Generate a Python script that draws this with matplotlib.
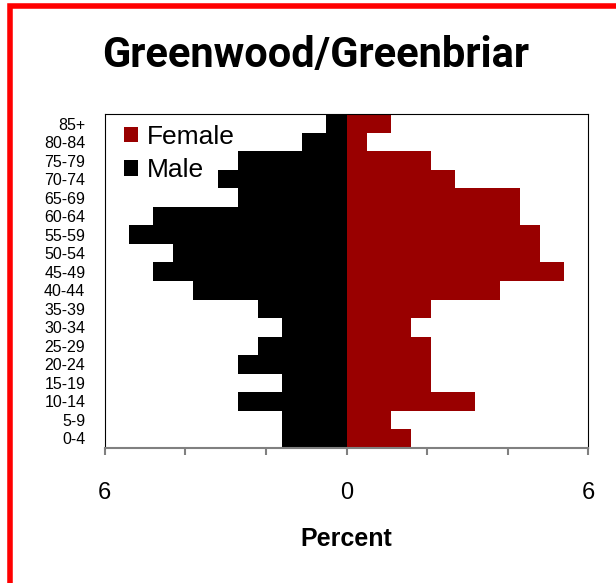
import numpy as np
import matplotlib
matplotlib.use("Agg")
import matplotlib.pyplot as plt
from matplotlib.patches import Rectangle

# age groups, bottom to top
ages = ["0-4", "5-9", "10-14", "15-19", "20-24", "25-29", "30-34", "35-39",
        "40-44", "45-49", "50-54", "55-59", "60-64", "65-69", "70-74",
        "75-79", "80-84", "85+"]
male = [1.6, 1.6, 2.7, 1.6, 2.7, 2.2, 1.6, 2.2, 3.8, 4.8, 4.3, 5.4, 4.8,
        2.7, 3.2, 2.7, 1.1, 0.5]
female = [1.6, 1.1, 3.2, 2.1, 2.1, 2.1, 1.6, 2.1, 3.8, 5.4, 4.8, 4.8, 4.3,
          4.3, 2.7, 2.1, 0.5, 1.1]
xticks = [-6, -4, -2, 0, 2, 4, 6]
xticklabels = ["6", "", "", "0", "", "", "6"]

plt.rcParams['font.family'] = ['Liberation Sans', 'DejaVu Sans']

fig = plt.figure(figsize=(6.16, 5.83), dpi=100)
ax = fig.add_axes([0.170, 0.232, 0.785, 0.572])

y = np.arange(len(ages))
ax.barh(y, -np.array(male), height=1.0, color="black", label="Male")
ax.barh(y, female, height=1.0, color="#990000", label="Female")

ax.set_xlim(-6, 6)
ax.set_ylim(-0.5, len(ages) - 0.5)
ax.set_yticks(y)
ax.set_yticklabels(ages, fontsize=11.5)
ax.tick_params(axis="y", length=0, pad=14)
ax.set_xticks(xticks)
ax.set_xticklabels(xticklabels, fontsize=17)
ax.tick_params(axis="x", length=5, color="#808080", width=1.5, pad=20)
ax.spines["bottom"].set_color("#808080")
ax.spines["bottom"].set_linewidth(1.5)
ax.set_xlabel("Percent", fontsize=18, fontweight="bold", labelpad=16)

h, l = ax.get_legend_handles_labels()
ax.legend(h[::-1], l[::-1], loc="upper left", bbox_to_anchor=(0.018, 1.0),
          frameon=False, fontsize=19,
          handlelength=0.55, handleheight=0.55, handletextpad=0.3,
          labelspacing=0.35, borderaxespad=0.0)

fig.text(0.513, 0.905, "Greenwood/Greenbriar", fontsize=30, fontweight="bold",
         ha="center", va="center",
         family=["Liberation Sans Narrow", "Roboto", "Liberation Sans", "DejaVu Sans"])

# red frame, cropped at the right and bottom
fig.patches.append(Rectangle((0.017, -0.05), 1.1, 1.04, transform=fig.transFigure,
                             fill=False, edgecolor="red", linewidth=4))

fig.savefig("out.png", dpi=100)
